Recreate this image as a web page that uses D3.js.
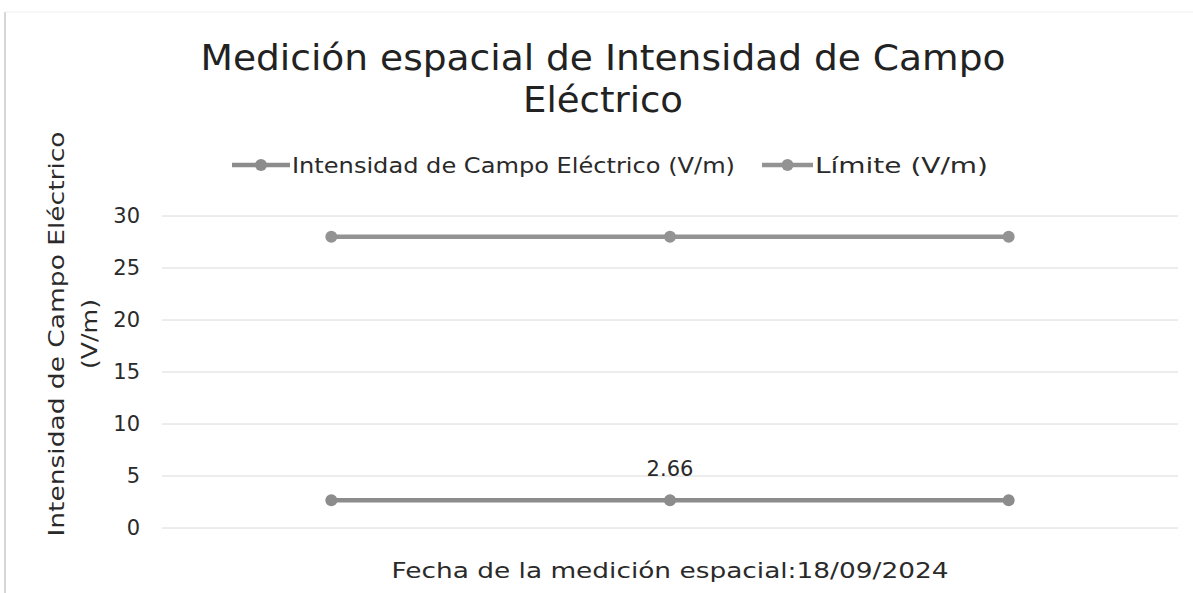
<!DOCTYPE html>
<html lang="es">
<head>
  <meta charset="UTF-8">
  <title>Medición espacial de Intensidad de Campo Eléctrico</title>
  <script src="https://d3js.org/d3.v7.min.js"></script>
  <style>
    html, body {
      margin: 0;
      padding: 0;
      overflow: hidden;
      background: white;
      font-family: "DejaVu Sans", sans-serif;
    }
    svg {
      display: block;
    }
  </style>
</head>
<body>
  <svg></svg>

  <script>
    // datos
    const categories = ["1", "2", "3"];
    const intensidad = [2.66, 2.66, 2.66];
    const limite = [28, 28, 28];
    const yTicks = [0, 5, 10, 15, 20, 25, 30];
    const labelIndex = 1; // solo el punto central lleva etiqueta

    const width = 1193;
    const height = 593;
    const margin = { top: 216, right: 15, bottom: 65, left: 162 };

    const svg = d3.select("svg")
      .attr("width", width)
      .attr("height", height);

    // borde del gráfico (escaneado)
    svg.append("line")
      .attr("x1", 5).attr("x2", 5)
      .attr("y1", 12).attr("y2", height)
      .attr("stroke", "#c8c8c8")
      .attr("stroke-width", 1.5);
    svg.append("line")
      .attr("x1", 5).attr("x2", width)
      .attr("y1", 12).attr("y2", 12)
      .attr("stroke", "#efefef")
      .attr("stroke-width", 1);

    const x = d3.scaleBand()
      .domain(categories)
      .range([margin.left, width - margin.right]);

    const y = d3.scaleLinear()
      .domain([0, 30])
      .range([height - margin.bottom, margin.top]);

    // rejilla
    svg.append("g")
      .selectAll("line")
      .data(yTicks)
      .enter().append("line")
      .attr("x1", margin.left)
      .attr("x2", width - margin.right)
      .attr("y1", d => y(d))
      .attr("y2", d => y(d))
      .attr("stroke", "#dadada")
      .attr("stroke-width", 1);

    // eje Y
    const yAxis = svg.append("g")
      .attr("transform", `translate(${margin.left - 22},0)`)
      .call(d3.axisLeft(y).tickValues(yTicks).tickSize(0).tickPadding(0));
    yAxis.select(".domain").remove();
    yAxis.selectAll("text")
      .attr("font-family", "DejaVu Sans, sans-serif")
      .attr("font-size", 21)
      .attr("fill", "#2a2a2a");

    // textos estirados para imitar la fuente ancha del original
    function wideText(sel, len) {
      return sel.attr("textLength", len).attr("lengthAdjust", "spacingAndGlyphs");
    }

    // títulos
    const title = svg.append("text")
      .attr("text-anchor", "middle")
      .attr("font-size", 36)
      .attr("fill", "#222");
    wideText(title.append("tspan").attr("x", 603).attr("y", 70)
      .text("Medición espacial de Intensidad de Campo"), 805);
    wideText(title.append("tspan").attr("x", 603).attr("y", 112)
      .text("Eléctrico"), 160);

    const yTitle = svg.append("text")
      .attr("transform", "translate(0,334) rotate(-90)")
      .attr("text-anchor", "middle")
      .attr("font-size", 22)
      .attr("fill", "#2a2a2a");
    wideText(yTitle.append("tspan").attr("x", 0).attr("y", 64)
      .text("Intensidad de Campo Eléctrico"), 405);
    wideText(yTitle.append("tspan").attr("x", 0).attr("y", 97)
      .text("(V/m)"), 70);

    wideText(svg.append("text")
      .attr("x", x.range()[0] + (x.range()[1] - x.range()[0]) / 2)
      .attr("y", 578)
      .attr("text-anchor", "middle")
      .attr("font-size", 22)
      .attr("fill", "#2a2a2a")
      .text("Fecha de la medición espacial:18/09/2024"), 557);

    // series
    const series = [
      { name: "Intensidad de Campo Eléctrico (V/m)", values: intensidad, color: "#8c8c8c", len: 443 },
      { name: "Límite (V/m)", values: limite, color: "#939393", len: 173 }
    ];

    const line = d3.line()
      .x((d, i) => x(categories[i]) + x.bandwidth() / 2)
      .y(d => y(d));

    series.forEach(s => {
      const g = svg.append("g");
      g.append("path")
        .datum(s.values)
        .attr("d", line)
        .attr("fill", "none")
        .attr("stroke", s.color)
        .attr("stroke-width", 4.5);
      g.selectAll("circle")
        .data(s.values)
        .enter().append("circle")
        .attr("cx", (d, i) => x(categories[i]) + x.bandwidth() / 2)
        .attr("cy", d => y(d))
        .attr("r", 6)
        .attr("fill", s.color);
    });

    // etiqueta de dato
    svg.append("text")
      .attr("x", x(categories[labelIndex]) + x.bandwidth() / 2)
      .attr("y", y(intensidad[labelIndex]) - 24)
      .attr("text-anchor", "middle")
      .attr("font-size", 21)
      .attr("fill", "#2a2a2a")
      .text(intensidad[labelIndex]);

    // leyenda
    const legendPos = [{ x: 232, tx: 292 }, { x: 762, tx: 815 }];
    series.forEach((s, i) => {
      const lg = svg.append("g");
      const p = legendPos[i];
      lg.append("line")
        .attr("x1", p.x).attr("x2", p.tx - 2)
        .attr("y1", 165).attr("y2", 165)
        .attr("stroke", s.color)
        .attr("stroke-width", 4.5);
      lg.append("circle")
        .attr("cx", (p.x + p.tx - 2) / 2)
        .attr("cy", 165)
        .attr("r", 6)
        .attr("fill", s.color);
      wideText(lg.append("text")
        .attr("x", p.tx)
        .attr("y", 173)
        .attr("font-size", 22)
        .attr("fill", "#2a2a2a")
        .text(s.name), s.len);
    });
  </script>
</body>
</html>
